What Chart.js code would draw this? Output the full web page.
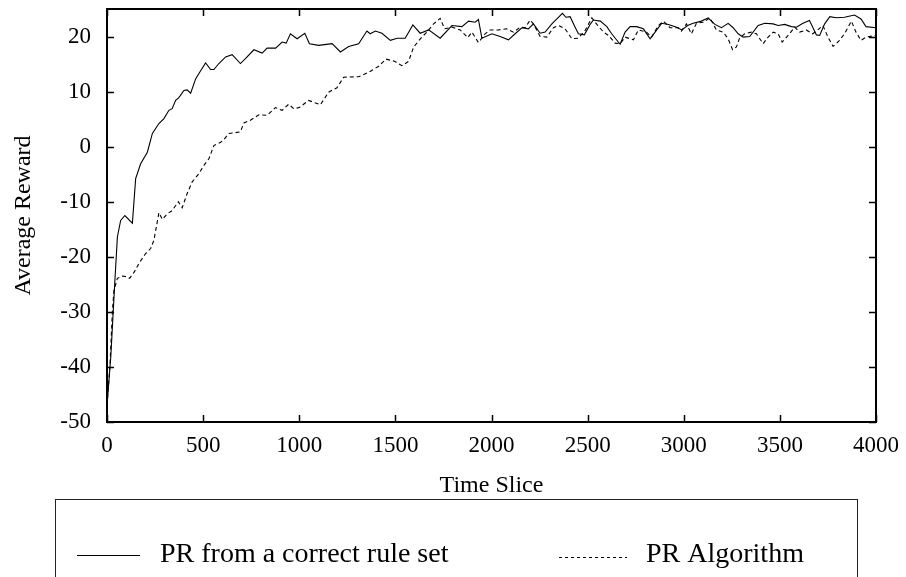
<!DOCTYPE html>
<html><head><meta charset="utf-8">
<script src="https://cdn.jsdelivr.net/npm/chart.js@4/dist/chart.umd.min.js"></script>
<style>html,body{margin:0;padding:0;background:#fff;overflow:hidden}#wrap{position:relative;width:906px;height:577px}canvas{display:block}</style>
</head><body><div id="wrap"><canvas id="c" width="906" height="577"></canvas></div>
<script>
// ---- data ----
const seriesNames = ['PR from a correct rule set', 'PR Algorithm'];
const xTickVals = [0, 500, 1000, 1500, 2000, 2500, 3000, 3500, 4000];
const yTickVals = [-50, -40, -30, -20, -10, 0, 10, 20];

const solidT = [0,20,40,54,71,93,132,149,175,210,236,270,296,322,339,357,374,400,417,435,461,487,513,539,556,582,617,651,694,720,764,807,833,877,911,932,954,989,1029,1053,1101,1171,1214,1257,1309,1352,1369,1396,1430,1474,1509,1551,1591,1629,1673,1733,1794,1846,1881,1915,1932,1950,2002,2045,2088,2123,2158,2192,2218,2253,2279,2314,2340,2369,2387,2409,2435,2452,2483,2513,2530,2566,2600,2625,2669,2695,2721,2755,2790,2825,2851,2885,2920,2963,2990,3020,3049,3092,3127,3162,3196,3231,3257,3283,3309,3343,3387,3422,3465,3491,3525,3560,3586,3620,3654,3671,3690,3707,3733,3760,3793,3836,3888,3922,3948,4000];
const solidV = [-47,-38,-25,-16.4,-13.4,-12.5,-13.9,-5.8,-3.1,-1.0,2.4,4.2,5.1,6.6,6.9,8.4,8.9,10.2,10.3,9.7,12.3,13.8,15.2,14.0,14.0,15.1,16.3,16.7,15.1,16.0,17.6,17.0,17.9,17.9,19.0,18.8,20.5,19.6,20.6,18.7,18.4,18.7,17.2,18.2,18.7,21.0,20.5,21.0,20.6,19.3,19.7,19.7,22.1,20.6,21.2,19.7,22.0,21.8,22.8,22.6,23.1,19.7,20.5,20.0,19.4,20.5,21.6,21.4,22.3,20.6,20.8,22.3,23.2,24.2,23.5,23.6,21.7,20.5,20.3,22.2,23.0,22.8,21.8,20.5,18.6,20.8,21.8,21.8,21.4,19.6,20.8,22.4,22.2,21.7,21.2,22.0,22.4,22.8,23.4,22.2,21.6,22.4,21.6,20.5,19.9,20.0,22.0,22.4,22.3,22.0,22.2,21.8,21.7,22.4,22.9,21.7,20.3,20.2,22.3,23.6,23.4,23.5,23.9,23.2,21.8,21.6];

const dashT = [0,15,28,36,54,80,97,118,143,166,201,227,244,270,288,313,339,371,391,417,443,478,504,530,556,591,608,634,660,694,712,746,790,833,876,911,945,971,1000,1049,1110,1153,1196,1231,1309,1361,1413,1451,1496,1534,1569,1595,1638,1664,1699,1733,1756,1794,1837,1877,1898,1932,1967,1993,2036,2079,2114,2149,2175,2201,2218,2253,2288,2322,2348,2383,2418,2452,2487,2522,2548,2583,2608,2643,2669,2695,2738,2764,2807,2833,2868,2894,2929,2972,2988,3014,3040,3066,3101,3136,3170,3205,3231,3254,3274,3291,3317,3352,3378,3413,3439,3465,3491,3512,3543,3577,3603,3637,3671,3697,3724,3750,3777,3810,3836,3872,3896,3922,3948,4000];
const dashV = [-47,-40,-30,-26.1,-23.9,-23.5,-23.6,-23.9,-22.7,-21.2,-19.4,-18.5,-17.0,-12.0,-13.2,-12.2,-11.6,-10.0,-11.1,-8.5,-6.4,-4.9,-3.4,-2.2,0.2,0.8,1.3,2.4,2.5,2.7,4.3,4.8,5.8,5.7,7.1,6.6,7.7,6.9,7.1,8.4,7.6,9.9,10.7,12.6,12.7,13.5,14.6,15.9,15.5,14.7,15.5,18.1,19.9,20.8,22.3,23.3,21.4,21.7,21.2,19.8,20.8,18.9,20.5,21.2,21.2,21.4,20.8,21.7,21.6,23.0,22.3,20.0,19.9,21.6,22.0,21.4,19.6,19.7,21.1,23.4,22.2,20.8,20.2,18.8,18.7,19.9,19.4,21.2,20.8,19.9,22.0,22.8,21.6,21.6,21.0,22.3,20.5,22.4,22.6,23.4,21.2,20.8,19.6,17.6,18.1,19.8,20.5,20.8,20.5,18.7,19.9,20.8,20.5,19.0,20.2,21.7,20.8,21.2,20.5,21.2,22.0,19.9,18.2,19.3,20.5,22.8,20.8,19.3,19.9,20.2];

// ---- styling ----
const SERIF = '"Liberation Serif", "DejaVu Serif", serif';

const framePlugin = {
  id: 'frameTicks',
  afterDatasetsDraw(chart) {
    const c = chart.ctx, a = chart.chartArea, xs = chart.scales.x, ys = chart.scales.y;
    const TL = 7;
    c.save();
    c.strokeStyle = '#000';
    c.lineWidth = 1.5;
    c.setLineDash([]);
    c.beginPath();
    xs.ticks.forEach(t => {
      const p = Math.round(xs.getPixelForValue(t.value)) + 0.5;
      c.moveTo(p, a.bottom); c.lineTo(p, a.bottom - TL);
      c.moveTo(p, a.top); c.lineTo(p, a.top + TL);
    });
    ys.ticks.forEach(t => {
      const p = Math.round(ys.getPixelForValue(t.value)) + 0.5;
      c.moveTo(a.left, p); c.lineTo(a.left + TL, p);
      c.moveTo(a.right, p); c.lineTo(a.right - TL, p);
    });
    c.stroke();
    c.lineWidth = 2;
    c.strokeRect(a.left, a.top, a.right - a.left, a.bottom - a.top);
    c.restore();
  }
};

const boxLegend = {
  id: 'boxLegend',
  afterDraw(chart, args, o) {
    const c = chart.ctx;
    c.save();
    c.strokeStyle = '#222';
    c.lineWidth = 1;
    c.strokeRect(o.box[0] + 0.5, o.box[1] + 0.5, o.box[2], o.box[3]);
    chart.data.datasets.forEach((ds, i) => {
      const it = o.items[i];
      c.strokeStyle = '#000';
      c.lineWidth = 1;
      c.setLineDash(ds.legendDash || []);
      c.beginPath();
      c.moveTo(it.x0, it.y + 0.5);
      c.lineTo(it.x1, it.y + 0.5);
      c.stroke();
      c.setLineDash([]);
      c.font = o.fontSize + 'px ' + SERIF;
      c.fillStyle = '#000';
      c.textBaseline = 'alphabetic';
      c.textAlign = 'left';
      c.fillText(ds.label, it.tx, it.ty);
    });
    c.restore();
  }
};

const tickFont = {family: SERIF, size: 23};
const titleFont = {family: SERIF, size: 24};

new Chart(document.getElementById('c'), {
  type: 'line',
  data: {
    datasets: [
      {label: seriesNames[0], data: solidT.map((t, i) => ({x: t, y: solidV[i]})),
       borderColor: '#000', borderWidth: 1.1, pointRadius: 0, tension: 0, fill: false},
      {label: seriesNames[1], data: dashT.map((t, i) => ({x: t, y: dashV[i]})),
       borderColor: '#000', borderWidth: 1.1, borderDash: [4, 3], legendDash: [3, 3], pointRadius: 0, tension: 0, fill: false}
    ]
  },
  options: {
    responsive: false,
    animation: false,
    devicePixelRatio: 1,
    layout: {padding: {top: 9, right: 30, bottom: 75, left: 0}},
    plugins: {
      legend: {display: false},
      tooltip: {enabled: false},
      boxLegend: {
        box: [55, 499, 802, 120],
        fontSize: 28,
        items: [
          {x0: 77, x1: 140, y: 555, tx: 160, ty: 562},
          {x0: 559, x1: 627, y: 557, tx: 646, ty: 562}
        ]
      }
    },
    scales: {
      x: {
        type: 'linear', min: 0, max: 4000,
        afterBuildTicks: s => { s.ticks = xTickVals.map(v => ({value: v})); },
        afterFit: s => { s.height = 80; s.paddingLeft = 0; s.paddingRight = 0; s.paddingTop = 0; s.paddingBottom = 0; },
        ticks: {padding: 10, font: tickFont, color: '#000', maxRotation: 0, autoSkip: false, callback: v => String(v)},
        grid: {display: false, drawTicks: false},
        border: {display: false},
        title: {display: true, text: 'Time Slice', font: titleFont, color: '#000', padding: {top: 0, bottom: 2}}
      },
      y: {
        type: 'linear', min: -50, max: 25,
        afterBuildTicks: s => { s.ticks = yTickVals.map(v => ({value: v})); },
        afterFit: s => { s.width = 107; s.paddingTop = 0; s.paddingBottom = 0; s.paddingLeft = 0; s.paddingRight = 0; },
        ticks: {padding: 16, font: tickFont, color: '#000', autoSkip: false, callback: v => String(v)},
        grid: {display: false, drawTicks: false},
        border: {display: false},
        title: {display: true, text: 'Average Reward', font: titleFont, color: '#000', padding: {top: 9, bottom: 0}}
      }
    }
  },
  plugins: [framePlugin, boxLegend]
});
</script>
</body></html>
